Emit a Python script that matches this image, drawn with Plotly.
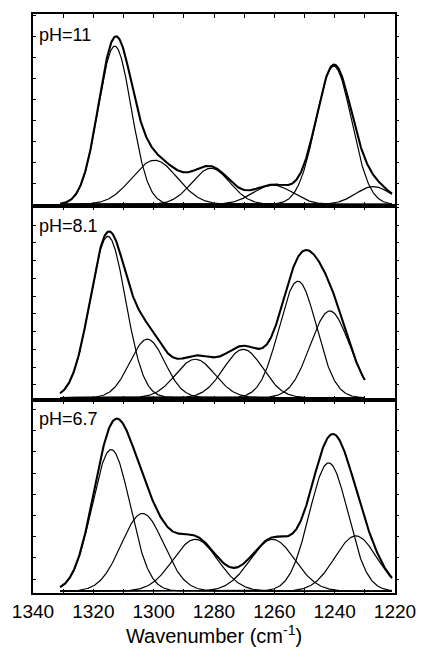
import numpy as np
import plotly.graph_objects as go

# Band-fit parameters for the amide III region at three pH values:
# centre (cm-1), height (a.u.) and Gaussian sigma (cm-1) of each component.
ph_labels = ["pH=11", "pH=8.1", "pH=6.7"]

ph11_centers = [1312.9, 1299.7, 1281.0, 1260.5, 1240.3, 1227.2]
ph11_heights = [7.52, 2.1, 1.72, 0.92, 6.57, 0.85]
ph11_sigmas = [5.5, 7.5, 6.3, 6.5, 5.9, 5.8]
ph11_span = [1331, 1221]

ph81_centers = [1315.2, 1302.1, 1286.2, 1270.3, 1252.2, 1241.6]
ph81_heights = [9.1, 3.3, 2.17, 2.73, 6.57, 4.89]
ph81_sigmas = [5.9, 5.8, 6.5, 6.5, 6.2, 6.5]
ph81_span = [1331, 1230]

ph67_centers = [1314.1, 1303.7, 1286.2, 1260.6, 1242.0, 1233.0]
ph67_heights = [6.67, 3.66, 2.44, 2.44, 6.04, 2.6]
ph67_sigmas = [6.3, 7.0, 7.4, 7.4, 6.4, 7.0]
ph67_span = [1331, 1221]

panels = [
    (ph11_centers, ph11_heights, ph11_sigmas, ph11_span),
    (ph81_centers, ph81_heights, ph81_sigmas, ph81_span),
    (ph67_centers, ph67_heights, ph67_sigmas, ph67_span),
]

# vertical layout of the stacked panels (paper fractions) and y scaling
y_domains = [[0.6678, 1.0], [0.3339, 0.6678], [0.0, 0.3339]]
y_ranges = [[-0.09, 9.05], [-0.11, 10.79], [-0.09, 9.02]]
y_tick0 = [0.0, 0.73, 0.56]
label_y = [0.964, 0.633, 0.300]

FONT = "Liberation Sans, Arial, sans-serif"

fig = go.Figure()

for i, (centers, heights, sigmas, span) in enumerate(panels):
    n = i + 1
    xa = "x" if n == 1 else f"x{n}"
    ya = "y" if n == 1 else f"y{n}"
    wn = np.linspace(span[0], span[1], 600)
    total = np.zeros_like(wn)
    for c, h, s in zip(centers, heights, sigmas):
        band = h * np.exp(-((wn - c) ** 2) / (2 * s ** 2))
        total += band
        fig.add_trace(go.Scatter(x=wn, y=band, mode="lines", xaxis=xa, yaxis=ya,
                                 line=dict(color="black", width=1.2),
                                 showlegend=False, hoverinfo="skip"))
    fig.add_trace(go.Scatter(x=wn, y=total, mode="lines", xaxis=xa, yaxis=ya,
                             line=dict(color="black", width=2.1),
                             showlegend=False, hoverinfo="skip"))
    # right-hand axis carrying the outward ticks
    fig.add_trace(go.Scatter(x=[None], y=[None], mode="lines", xaxis=xa,
                             yaxis=f"y{n + 3}", showlegend=False, hoverinfo="skip"))

layout = dict(
    width=428, height=654,
    margin=dict(l=31, r=28, t=12, b=61),
    paper_bgcolor="white", plot_bgcolor="white",
    font=dict(family=FONT, color="black"),
    showlegend=False,
)

for i in range(3):
    n = i + 1
    xkey = "xaxis" if n == 1 else f"xaxis{n}"
    ykey = "yaxis" if n == 1 else f"yaxis{n}"
    yname = "y" if n == 1 else f"y{n}"
    xname = "x" if n == 1 else f"x{n}"
    xa = dict(
        range=[1340, 1220], anchor=yname, domain=[0, 1],
        showline=True, linecolor="black", linewidth=2, mirror="ticks",
        ticks="inside", ticklen=4, tickwidth=1, tickcolor="black",
        dtick=20, tick0=1220,
        minor=dict(dtick=10, ticks="inside", ticklen=4, tickcolor="black", showgrid=False),
        showgrid=False, zeroline=False,
        showticklabels=(n == 3),
        tickfont=dict(family=FONT, size=19, color="black"),
    )
    if n == 3:
        xa["title"] = dict(text="Wavenumber (cm<sup>-1</sup>)",
                           font=dict(family=FONT, size=20, color="black"),
                           standoff=5)
    else:
        xa["matches"] = "x3"
    layout[xkey] = xa
    layout[ykey] = dict(
        domain=y_domains[i], range=y_ranges[i], anchor=xname,
        showline=True, linecolor="black", linewidth=2, mirror=True,
        ticks="inside", ticklen=3, tickwidth=1, tickcolor="black",
        tick0=y_tick0[i], dtick=1,
        showticklabels=False, showgrid=False, zeroline=False,
    )
    layout[f"yaxis{n + 3}"] = dict(
        overlaying=yname, anchor=xname, side="right",
        range=y_ranges[i], tick0=y_tick0[i], dtick=1,
        ticks="outside", ticklen=3, tickwidth=1, tickcolor="black",
        showline=False, showticklabels=False, showgrid=False, zeroline=False,
    )

layout["annotations"] = [
    dict(text=ph_labels[i], xref="paper", yref="paper", x=0.011, y=label_y[i],
         xanchor="left", yanchor="middle", showarrow=False,
         font=dict(family=FONT, size=18, color="black"))
    for i in range(3)
]

fig.update_layout(**layout)
fig.write_html("out.html")
